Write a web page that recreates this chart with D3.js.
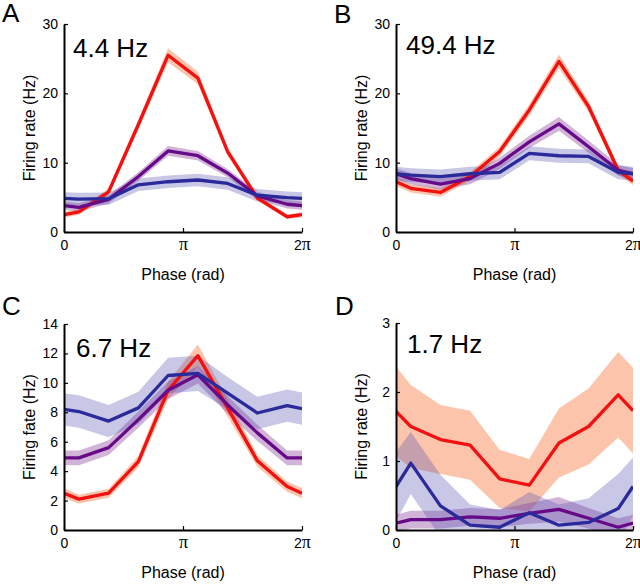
<!DOCTYPE html>
<html>
<head>
<meta charset="utf-8">
<script src="https://cdn.jsdelivr.net/npm/d3@7"></script>
<style>
  html, body { margin: 0; padding: 0; background: #fff; }
  svg { display: block; }
  text { font-family: "Liberation Sans", Arial, Helvetica, sans-serif; fill: #000; }
</style>
</head>
<body>
<svg id="chart" width="640" height="586"></svg>
<script>
// ---------------- DATA ----------------
// phase positions, in multiples of pi (bin centres of 8 bins, plus the wrapped end points)
const phaseFrac = [0, 0.125, 0.375, 0.625, 0.875, 1.125, 1.375, 1.625, 1.875, 2];
const xTickValues = [0, 1, 2];
const xTickDigits = ["0", "", "2"];
const xTickPi = ["", "π", "π"];

const panelLetters = ["A", "B", "C", "D"];
const freqLabels = ["4.4 Hz", "49.4 Hz", "6.7 Hz", "1.7 Hz"];
const yLabels = ["Firing rate (Hz)", "Firing rate (Hz)", "Firing fate (Hz)", "Firing rate (Hz)"];
const yMax = [30, 30, 14, 3];
const yTicksA = [0, 10, 20, 30];
const yTicksB = [0, 10, 20, 30];
const yTicksC = [0, 2, 4, 6, 8, 10, 12, 14];
const yTicksD = [0, 1, 2, 3];

// Panel A
const redA    = [2.5, 2.9, 5.8, 15.5, 25.5, 22.2, 11.6, 4.9, 2.2, 2.5];
const redSemA = [0.4, 0.4, 0.5, 0.7, 1.0, 0.9, 0.6, 0.4, 0.3, 0.4];
const purA    = [3.8, 3.55, 4.7, 8.0, 11.7, 11.0, 8.5, 5.2, 4.0, 3.8];
const purSemA = [0.6, 0.6, 0.6, 0.6, 0.7, 0.7, 0.6, 0.6, 0.6, 0.6];
const bluA    = [4.85, 4.75, 4.8, 6.8, 7.25, 7.5, 7.0, 5.3, 4.95, 4.85];
const bluSemA = [0.9, 0.9, 0.9, 0.9, 0.9, 0.9, 0.9, 0.9, 0.9, 0.9];

// Panel B
const redB    = [7.25, 6.3, 5.7, 8.0, 11.6, 17.6, 24.6, 18.1, 8.9, 7.35];
const redSemB = [0.6, 0.6, 0.6, 0.6, 0.7, 0.8, 1.0, 0.8, 0.6, 0.6];
const purB    = [8.4, 7.7, 6.9, 7.7, 9.9, 13.0, 15.6, 12.3, 8.9, 8.4];
const purSemB = [0.8, 0.8, 0.8, 0.8, 0.8, 0.9, 1.0, 0.9, 0.8, 0.8];
const bluB    = [8.4, 8.2, 8.0, 8.4, 8.6, 11.35, 11.0, 10.9, 8.6, 8.4];
const bluSemB = [1.0, 1.0, 1.0, 1.0, 1.0, 1.0, 1.0, 1.0, 1.0, 1.0];

// Panel C
const redC    = [2.5, 2.1, 2.5, 4.65, 9.5, 11.85, 8.3, 4.7, 2.95, 2.5];
const redSemC = [0.35, 0.3, 0.3, 0.4, 0.6, 0.75, 0.6, 0.4, 0.35, 0.35];
const purC    = [4.9, 4.9, 5.6, 7.5, 9.5, 10.55, 8.5, 6.6, 4.9, 4.9];
const purSemC = [0.5, 0.5, 0.5, 0.55, 0.6, 0.6, 0.6, 0.55, 0.5, 0.5];
const bluC    = [8.2, 8.05, 7.4, 8.3, 10.5, 10.65, 9.3, 7.95, 8.45, 8.25];
const bluSemC = [1.1, 1.1, 1.1, 1.1, 1.2, 1.2, 1.1, 1.1, 1.1, 1.1];

// Panel D
const redD    = [1.72, 1.5, 1.31, 1.23, 0.74, 0.65, 1.26, 1.5, 1.96, 1.73];
const redSemD = [0.65, 0.6, 0.5, 0.5, 0.42, 0.38, 0.5, 0.55, 0.62, 0.62];
const purD    = [0.1, 0.15, 0.15, 0.19, 0.17, 0.24, 0.3, 0.17, 0.04, 0.1];
const purSemD = [0.12, 0.13, 0.13, 0.13, 0.13, 0.15, 0.18, 0.15, 0.13, 0.12];
const bluD    = [0.63, 0.97, 0.35, 0.07, 0.04, 0.25, 0.07, 0.11, 0.31, 0.63];
const bluSemD = [0.5, 0.45, 0.45, 0.3, 0.25, 0.3, 0.3, 0.35, 0.5, 0.42];

// ---------------- LAYOUT / STYLE ----------------
const colors = {
  red:    { line: "#f21010", fill: "#f98a55", op: 0.5 },
  purple: { line: "#660a88", fill: "#8a3a9a", op: 0.38 },
  blue:   { line: "#2a2a9a", fill: "#5550b0", op: 0.32 }
};

const panels = [
  { left: 64,  right: 302, top: 24,  bottom: 232, ticks: yTicksA, letterX: 2,   letterY: 22,  freqX: 73,  freqY: 57,
    series: [["red", redA, redSemA], ["purple", purA, purSemA], ["blue", bluA, bluSemA]] },
  { left: 396, right: 633, top: 24,  bottom: 232, ticks: yTicksB, letterX: 334, letterY: 23,  freqX: 406, freqY: 54,
    series: [["red", redB, redSemB], ["purple", purB, purSemB], ["blue", bluB, bluSemB]] },
  { left: 64,  right: 302, top: 324, bottom: 530, ticks: yTicksC, letterX: 2,   letterY: 315, freqX: 76,  freqY: 357,
    series: [["red", redC, redSemC], ["purple", purC, purSemC], ["blue", bluC, bluSemC]] },
  { left: 396, right: 633, top: 323, bottom: 530, ticks: yTicksD, letterX: 335, letterY: 315, freqX: 407, freqY: 353,
    series: [["red", redD, redSemD], ["purple", purD, purSemD], ["blue", bluD, bluSemD]] }
];

const svg = d3.select("#chart");
const defs = svg.append("defs");

panels.forEach((p, i) => {
  const x = d3.scaleLinear().domain([0, 2]).range([p.left, p.right]);
  const y = d3.scaleLinear().domain([0, yMax[i]]).range([p.bottom, p.top]);

  const clipId = "clip" + i;
  defs.append("clipPath").attr("id", clipId)
    .append("rect")
    .attr("x", p.left).attr("y", p.top)
    .attr("width", p.right - p.left).attr("height", p.bottom - p.top);

  const g = svg.append("g");
  const plot = g.append("g").attr("clip-path", `url(#${clipId})`);

  const area = d3.area()
    .x((d, k) => x(phaseFrac[k]))
    .y0(d => y(d[0] - d[1]))
    .y1(d => y(d[0] + d[1]));
  const line = d3.line()
    .x((d, k) => x(phaseFrac[k]))
    .y(d => y(d));

  // bands
  p.series.forEach(([c, m, s]) => {
    plot.append("path")
      .datum(m.map((v, k) => [v, s[k]]))
      .attr("d", area)
      .attr("fill", colors[c].fill)
      .attr("fill-opacity", colors[c].op)
      .attr("stroke", "none");
  });
  // lines
  p.series.forEach(([c, m]) => {
    plot.append("path")
      .datum(m)
      .attr("d", line)
      .attr("fill", "none")
      .attr("stroke", colors[c].line)
      .attr("stroke-width", 3.3)
      .attr("stroke-linejoin", "round");
  });

  // axes
  const yAxis = d3.axisLeft(y).tickValues(p.ticks).tickSize(-4).tickSizeOuter(0).tickPadding(6)
    .tickFormat(d3.format("d"));
  const yg = g.append("g").attr("transform", `translate(${p.left},0)`).call(yAxis);
  yg.selectAll("text").style("font-size", "14px").style("font-family", '"Liberation Sans", Arial, sans-serif');

  const xAxis = d3.axisBottom(x).tickValues(xTickValues).tickSize(-4).tickSizeOuter(0).tickPadding(11)
    .tickFormat(() => "");
  const xg = g.append("g").attr("transform", `translate(0,${p.bottom})`).call(xAxis);
  xg.selectAll(".tick text").each(function(d, k) {
    const t = d3.select(this);
    t.text(null);
    if (xTickDigits[k]) {
      t.append("tspan").style("font-family", '"Liberation Sans", Arial, sans-serif').style("font-size", "14px")
        .text(xTickDigits[k]);
    }
    if (xTickPi[k]) {
      t.append("tspan").style("font-family", '"Liberation Serif", "Times New Roman", serif').style("font-size", "18px")
        .text(xTickPi[k]);
    }
  });

  [yg, xg].forEach(a => {
    a.select(".domain").attr("stroke", "#000").attr("stroke-width", 2);
    a.selectAll(".tick line").attr("stroke", "#000").attr("stroke-width", 1.2);
  });

  // axis titles
  g.append("text")
    .attr("x", (p.left + p.right) / 2)
    .attr("y", p.bottom + 48)
    .attr("text-anchor", "middle")
    .style("font-size", "16px")
    .text("Phase (rad)");

  g.append("text")
    .attr("transform", `translate(${p.left - 29},${(p.top + p.bottom) / 2}) rotate(-90)`)
    .attr("text-anchor", "middle")
    .style("font-size", "16px")
    .text(yLabels[i]);

  // panel letter and frequency label
  g.append("text")
    .attr("x", p.letterX).attr("y", p.letterY)
    .style("font-size", "26px")
    .text(panelLetters[i]);

  g.append("text")
    .attr("x", p.freqX).attr("y", p.freqY)
    .style("font-size", "26px")
    .text(freqLabels[i]);
});
</script>
</body>
</html>
